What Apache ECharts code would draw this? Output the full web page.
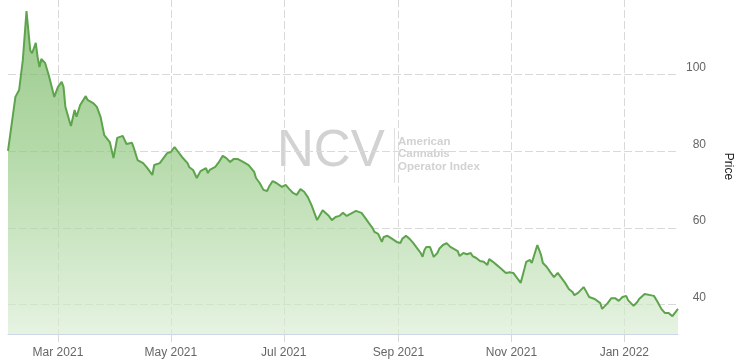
<!DOCTYPE html>
<html>
<head>
<meta charset="utf-8">
<script src="https://cdn.jsdelivr.net/npm/echarts@6/dist/echarts.min.js"></script>
<style>html,body{margin:0;padding:0;background:#fff;overflow:hidden;width:736px;height:363px}#c{width:736px;height:363px;position:absolute;left:0;top:0}</style>
</head>
<body>
<div id="c"></div>
<script>
const dates = ['2021-02-02','2021-02-06','2021-02-08','2021-02-10','2021-02-12','2021-02-14','2021-02-15','2021-02-17','2021-02-18','2021-02-19','2021-02-20','2021-02-22','2021-02-24','2021-02-25','2021-02-27',
'2021-03-01','2021-03-03','2021-03-04','2021-03-05','2021-03-07','2021-03-08','2021-03-10','2021-03-11','2021-03-13','2021-03-16','2021-03-17','2021-03-18','2021-03-20','2021-03-22','2021-03-24','2021-03-26','2021-03-29','2021-03-31',
'2021-04-02','2021-04-05','2021-04-06','2021-04-07','2021-04-10','2021-04-11','2021-04-13','2021-04-16','2021-04-18','2021-04-21','2021-04-22','2021-04-25','2021-04-27','2021-04-29',
'2021-05-01','2021-05-03','2021-05-05','2021-05-07','2021-05-08','2021-05-10','2021-05-11','2021-05-13','2021-05-15','2021-05-17','2021-05-20','2021-05-21','2021-05-22','2021-05-25','2021-05-27','2021-05-29','2021-05-31',
'2021-06-02','2021-06-04','2021-06-06','2021-06-09','2021-06-10','2021-06-12','2021-06-15','2021-06-16','2021-06-18','2021-06-20','2021-06-22','2021-06-23','2021-06-25','2021-06-27','2021-06-30',
'2021-07-02','2021-07-04','2021-07-06','2021-07-08','2021-07-10','2021-07-12','2021-07-14','2021-07-16','2021-07-18','2021-07-19','2021-07-22','2021-07-23','2021-07-25','2021-07-27','2021-07-29','2021-07-31',
'2021-08-02','2021-08-04','2021-08-05','2021-08-07','2021-08-09','2021-08-10','2021-08-12','2021-08-14','2021-08-16','2021-08-18','2021-08-19','2021-08-21','2021-08-23','2021-08-24','2021-08-26','2021-08-28','2021-08-29','2021-08-31',
'2021-09-02','2021-09-03','2021-09-05','2021-09-07','2021-09-09','2021-09-11','2021-09-13','2021-09-14','2021-09-15','2021-09-16','2021-09-18','2021-09-20','2021-09-22','2021-09-23','2021-09-25','2021-09-27','2021-09-29','2021-09-30',
'2021-10-03','2021-10-04','2021-10-06','2021-10-08','2021-10-10','2021-10-11','2021-10-13','2021-10-15','2021-10-17','2021-10-19','2021-10-20','2021-10-22','2021-10-24','2021-10-26','2021-10-29','2021-10-31',
'2021-11-02','2021-11-04','2021-11-06','2021-11-08','2021-11-09','2021-11-11','2021-11-12','2021-11-15','2021-11-17','2021-11-18','2021-11-20','2021-11-22','2021-11-24','2021-11-26','2021-11-28','2021-11-30',
'2021-12-02','2021-12-04','2021-12-05','2021-12-07','2021-12-10','2021-12-11','2021-12-13','2021-12-16','2021-12-19','2021-12-20','2021-12-23','2021-12-25','2021-12-27','2021-12-29','2021-12-31',
'2022-01-02','2022-01-03','2022-01-06','2022-01-08','2022-01-09','2022-01-12','2022-01-15','2022-01-17','2022-01-19','2022-01-21','2022-01-23','2022-01-25','2022-01-27','2022-01-28','2022-01-30'];
const prices = [80.1,94.2,96.0,103.8,116.6,106.4,105.6,108.3,104.6,102.0,104.1,103.1,99.9,99.4,94.2,
96.8,98.1,96.8,91.6,88.2,86.6,90.8,89.0,92.1,94.4,93.4,93.6,92.6,91.6,89.0,84.2,82.4,78.2,
83.5,84.0,83.5,81.9,82.2,80.8,77.7,76.9,75.8,73.8,76.4,76.9,78.2,79.5,
79.8,81.1,79.8,78.5,78.2,76.9,75.8,75.1,73.0,74.8,75.6,74.3,75.1,75.9,77.2,78.8,78.2,
77.2,78.0,78.0,77.2,76.9,76.4,74.6,73.0,71.7,69.9,69.6,70.7,72.2,71.7,70.7,
71.2,70.1,69.1,68.6,70.1,69.4,68.0,65.9,63.3,62.0,64.6,64.1,63.3,62.0,62.8,63.1,
63.9,63.1,62.8,63.9,64.4,64.4,63.9,62.6,61.2,59.9,58.9,58.4,56.3,57.6,57.9,57.3,57.6,56.3,
56.0,57.1,57.9,57.1,56.0,54.7,53.4,52.4,54.2,55.0,55.0,52.4,53.4,54.5,55.5,56.0,55.0,54.5,
53.9,52.6,53.4,53.1,53.4,52.6,52.1,51.3,51.1,50.3,51.8,51.1,50.3,49.5,48.2,48.4,
48.2,46.9,45.6,49.2,51.1,51.6,50.8,55.5,52.9,50.8,49.8,48.4,47.1,48.2,46.9,45.6,
44.0,43.2,42.4,43.0,44.5,43.7,41.9,41.4,40.3,38.8,40.3,41.6,41.6,40.9,41.9,
42.2,41.1,39.6,40.6,41.4,42.7,42.4,42.2,40.6,38.8,37.7,37.7,36.9,36.4,38.8];
const axisStart = '2021-02-02';
const axisEnd = '2022-01-30';
const labelMonths = [1, 3, 5, 7, 9, 11];
const monthNames = ['Jan','Feb','Mar','Apr','May','Jun','Jul','Aug','Sep','Oct','Nov','Dec'];
const yMin = 32.24, yMax = 119.78;

function pad(n){return n<10?'0'+n:''+n;}
const days = [];
{
  const s = new Date(axisStart + 'T00:00:00'), e = new Date(axisEnd + 'T00:00:00');
  for (let d = new Date(s); d <= e; d.setDate(d.getDate()+1)) {
    days.push(d.getFullYear()+'-'+pad(d.getMonth()+1)+'-'+pad(d.getDate()));
  }
}
function isLabelDay(v){
  const p = v.split('-');
  return p[2]==='01' && labelMonths.indexOf(+p[1])>=0;
}
const chart = echarts.init(document.getElementById('c'), null, {renderer:'canvas',width:736,height:363});
const gridColor = '#d9d9d9';
chart.setOption({
  animation:false,
  grid:{left:8,right:58,top:-1,bottom:29,containLabel:false,outerBoundsMode:'none'},
  xAxis:[
    {type:'time',min:axisStart,max:axisEnd,show:false},
    {type:'category',data:days,boundaryGap:false,position:'bottom',
     axisLine:{show:true,lineStyle:{color:'#ccd6eb',width:1}},
     axisTick:{show:true,length:8,interval:(i,v)=>isLabelDay(v),lineStyle:{color:'#d8d8d8',type:[8,3]}},
     axisLabel:{interval:(i,v)=>isLabelDay(v),color:'#666666',fontSize:12,fontFamily:'Liberation Sans, Arial, sans-serif',margin:13,
       formatter:v=>{const p=v.split('-');return monthNames[+p[1]-1]+' '+p[0];}},
     splitLine:{show:true,interval:(i,v)=>isLabelDay(v),lineStyle:{color:gridColor,type:[8,3],width:1}}
    }
  ],
  yAxis:{type:'value',position:'right',min:yMin,max:yMax,
    name:'Price',nameLocation:'middle',nameRotate:-90,nameGap:44,
    nameTextStyle:{color:'#222222',fontSize:12,fontFamily:'Liberation Sans, Arial, sans-serif'},
    axisLine:{show:false},axisTick:{show:false},
    axisLabel:{showMinLabel:false,showMaxLabel:false,color:'#666666',fontSize:12,fontFamily:'Liberation Sans, Arial, sans-serif',
      align:'right',margin:28,verticalAlign:'bottom',padding:[0,0,1,0]},
    splitLine:{show:true,lineStyle:{color:gridColor,type:[8,3],width:1}}
  },
  graphic:[
    {type:'text',left:277,top:126,z:0,style:{text:'NCV',font:'51px "Liberation Sans", Arial, sans-serif',fill:'#d2d2d2'}},
    {type:'line',z:0,shape:{x1:394.5,y1:128,x2:394.5,y2:183},style:{stroke:'#e0e0e0',lineWidth:1}},
    {type:'text',left:398,top:135,z:0,style:{text:'American\nCannabis\nOperator Index',font:'bold 11.5px "Liberation Sans", Arial, sans-serif',lineHeight:12.7,fill:'#d2d2d2'}}
  ],
  series:[{
    type:'line',xAxisIndex:0,
    data:dates.map((d,i)=>[d,prices[i]]),
    symbol:'none',
    lineStyle:{color:'#5ea44d',width:2},
    areaStyle:{origin:'start',color:new echarts.graphic.LinearGradient(0,0,0,1,[
      {offset:0,color:'rgb(110,178,90)'},
      {offset:0.45,color:'rgb(150,202,134)'},
      {offset:1,color:'rgb(218,237,212)'}
    ])},
    z:3
  }]
});
</script>
</body>
</html>
